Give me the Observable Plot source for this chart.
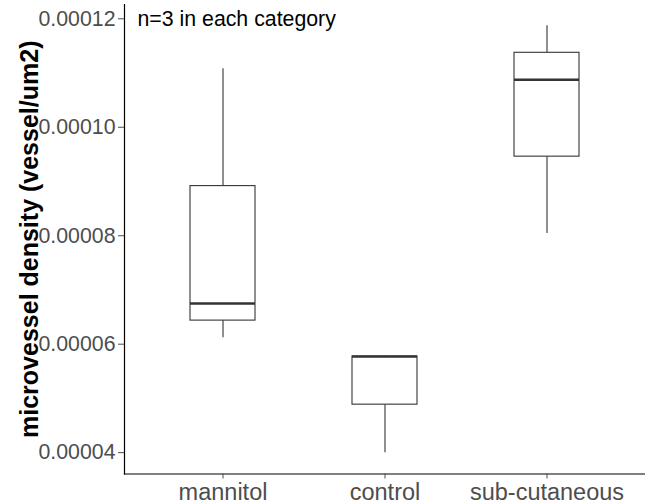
<!DOCTYPE html>
<html>
<head>
<meta charset="utf-8">
<script src="https://cdn.jsdelivr.net/npm/d3@7"></script>
<script src="https://cdn.jsdelivr.net/npm/@observablehq/plot@0.6"></script>
<style>
  html, body { margin: 0; padding: 0; background: #ffffff; }
  #chart svg { display: block; }
</style>
</head>
<body>
<div id="chart"></div>
<script>
// ---- data ----
const categories = ["mannitol", "control", "sub-cutaneous"];
const mannitolValues = [6.12e-5, 6.75e-5, 1.108e-4];
const controlValues = [4.0e-5, 5.77e-5, 5.78e-5];
const subcutaneousValues = [8.04e-5, 1.0876e-4, 1.187e-4];
const yTicks = [0.00004, 0.00006, 0.00008, 0.00010, 0.00012];
const yTitle = "microvessel density (vessel/um2)";
const note = "n=3 in each category";
const noteY = 0.00012;

// ---- summary statistics (R type-7 quantiles, same as ggplot) ----
const groups = [mannitolValues, controlValues, subcutaneousValues];
const stats = categories.map((name, i) => {
  const v = groups[i].slice().sort(d3.ascending);
  return {
    name,
    min: d3.min(v),
    q1: d3.quantile(v, 0.25),
    median: d3.quantile(v, 0.5),
    q3: d3.quantile(v, 0.75),
    max: d3.max(v)
  };
});

// ggplot-style 5% expansion of the continuous axis
const all = groups.flat();
const [lo, hi] = d3.extent(all);
const pad = (hi - lo) * 0.05;

const font = "'Liberation Sans', Arial, Helvetica, sans-serif";
const ink = "#333333";

const chart = Plot.plot({
  width: 645,
  height: 504,
  marginLeft: 124,
  marginRight: 0,
  marginTop: 4,
  marginBottom: 30.5,
  style: { fontFamily: font, background: "#ffffff" },
  x: { type: "band", domain: categories, paddingInner: 0.6, paddingOuter: 0.4 },
  y: { domain: [lo - pad, hi + pad] },
  marks: [
    Plot.frame({ anchor: "left", stroke: "#000000", strokeWidth: 1.2 }),
    Plot.frame({ anchor: "bottom", stroke: "#000000", strokeWidth: 1.2 }),
    Plot.axisY(yTicks, {
      tickFormat: d3.format(".5f"),
      tickSize: 6,
      tickPadding: 3,
      fontSize: 21.3,
      color: "#4d4d4d",
      label: null
    }),
    Plot.axisX({
      tickSize: 5,
      tickPadding: 4,
      fontSize: 23.5,
      color: "#4d4d4d",
      label: null
    }),
    // whiskers
    Plot.ruleX(stats, { x: "name", y1: "min", y2: "q1", stroke: ink, strokeWidth: 1.1 }),
    Plot.ruleX(stats, { x: "name", y1: "q3", y2: "max", stroke: ink, strokeWidth: 1.1 }),
    // boxes
    Plot.barY(stats, { x: "name", y1: "q1", y2: "q3", fill: "#ffffff", stroke: ink, strokeWidth: 1.1 }),
    // medians
    Plot.tickY(stats, { x: "name", y: "median", stroke: ink, strokeWidth: 2.4 }),
    // annotation
    Plot.text([note], {
      y: () => noteY,
      frameAnchor: "left",
      dx: 13,
      textAnchor: "start",
      fontSize: 21.3,
      fill: "#000000"
    }),
    // y-axis title
    Plot.text([yTitle], {
      frameAnchor: "left",
      textAnchor: "middle",
      rotate: -90,
      dx: -95,
      fontSize: 25,
      fontWeight: "bold",
      fill: "#000000"
    })
  ]
});

document.getElementById("chart").appendChild(chart);
</script>
</body>
</html>
